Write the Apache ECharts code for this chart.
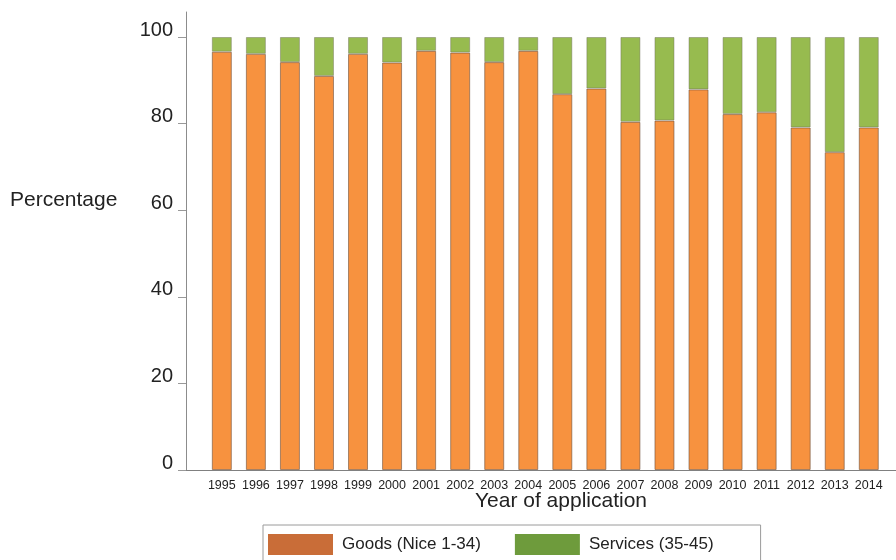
<!DOCTYPE html>
<html>
<head>
<meta charset="utf-8">
<script src="https://cdn.jsdelivr.net/npm/echarts@6/dist/echarts.min.js"></script>
<style>
  html, body { margin: 0; padding: 0; background: #fff; }
  #chart { width: 896px; height: 560px; }
</style>
</head>
<body>
<div id="chart"></div>
<script>
// Share of trademark applications by Nice class group, per year
const years = ['1995', '1996', '1997', '1998', '1999', '2000', '2001', '2002', '2003', '2004',
               '2005', '2006', '2007', '2008', '2009', '2010', '2011', '2012', '2013', '2014'];
const goodsPct = [96.6, 96.1, 94.2, 91.0, 96.1, 94.1, 96.8, 96.4, 94.2, 96.8,
                  86.8, 88.1, 80.4, 80.7, 87.9, 82.2, 82.6, 79.1, 73.4, 79.1];
const servicesPct = [3.4, 3.9, 5.8, 9.0, 3.9, 5.9, 3.2, 3.6, 5.8, 3.2,
                     13.2, 11.9, 19.6, 19.3, 12.1, 17.8, 17.4, 20.9, 26.6, 20.9];
const yTicks = [0, 20, 40, 60, 80, 100];

const goodsName = 'Goods (Nice 1-34)';
const servicesName = 'Services (35-45)';
const font = '"Liberation Sans", Arial, Helvetica, sans-serif';

const chart = echarts.init(document.getElementById('chart'), null, { renderer: 'canvas' });

chart.setOption({
  backgroundColor: '#ffffff',
  animation: false,
  textStyle: { fontFamily: font },
  title: [
    { text: 'Percentage', left: 10, top: 190, padding: 0,
      textStyle: { fontSize: 21, fontWeight: 'normal', color: '#222', fontFamily: font } },
    { text: 'Year of application', left: 475, top: 491, padding: 0,
      textStyle: { fontSize: 21, fontWeight: 'normal', color: '#222', fontFamily: font } }
  ],
  legend: {
    left: 263, top: 525,
    orient: 'horizontal',
    padding: [9, 47, 14, 5],
    itemWidth: 65, itemHeight: 21, itemGap: 34,
    icon: 'rect',
    borderColor: '#9a9a9a', borderWidth: 1,
    backgroundColor: '#ffffff',
    itemStyle: { borderWidth: 0 },
    textStyle: { fontSize: 17, color: '#222', fontFamily: font, padding: [0, 0, 0, 4] },
    data: [
      { name: goodsName, itemStyle: { color: '#C96D38', borderWidth: 0 } },
      { name: servicesName, itemStyle: { color: '#6E9B3C', borderWidth: 0 } }
    ]
  },
  grid: [
    // plotting area for the bars
    { left: 204.8, right: 10.2, top: 37, bottom: 90 },
    // frame carrying the long axis lines
    { left: 186, right: 0, top: 12, bottom: 90 }
  ],
  xAxis: [
    {
      type: 'category', gridIndex: 0, data: years,
      axisLine: { show: false }, axisTick: { show: false },
      axisLabel: { fontSize: 12.5, color: '#222', margin: 9, interval: 0, fontFamily: font },
      splitLine: { show: false }
    },
    {
      type: 'value', gridIndex: 1, min: 0, max: 1,
      axisLine: { show: true, lineStyle: { color: '#808080', width: 1 } },
      axisTick: { show: false }, axisLabel: { show: false }, splitLine: { show: false }
    }
  ],
  yAxis: [
    {
      type: 'value', gridIndex: 0, min: yTicks[0], max: yTicks[yTicks.length - 1], interval: 20,
      offset: 18.8,
      axisLine: { show: false },
      axisTick: { show: true, length: 8, lineStyle: { color: '#999' } },
      axisLabel: { fontSize: 20, color: '#222', margin: 13, fontFamily: font,
                   verticalAlign: 'bottom', lineHeight: 14 },
      splitLine: { show: false }
    },
    {
      type: 'value', gridIndex: 1, min: 0, max: 1,
      axisLine: { show: true, lineStyle: { color: '#8c8c8c', width: 1 } },
      axisTick: { show: false }, axisLabel: { show: false }, splitLine: { show: false }
    }
  ],
  series: [
    {
      name: goodsName, type: 'bar', stack: 'share', xAxisIndex: 0, yAxisIndex: 0,
      barWidth: 20, data: goodsPct,
      itemStyle: { color: '#F7923F', borderColor: 'rgba(110,80,60,0.6)', borderWidth: 1 }
    },
    {
      name: servicesName, type: 'bar', stack: 'share', xAxisIndex: 0, yAxisIndex: 0,
      barWidth: 20, data: servicesPct,
      itemStyle: { color: '#97BB4F', borderColor: 'rgba(110,110,90,0.45)', borderWidth: 1 }
    }
  ]
});
</script>
</body>
</html>
